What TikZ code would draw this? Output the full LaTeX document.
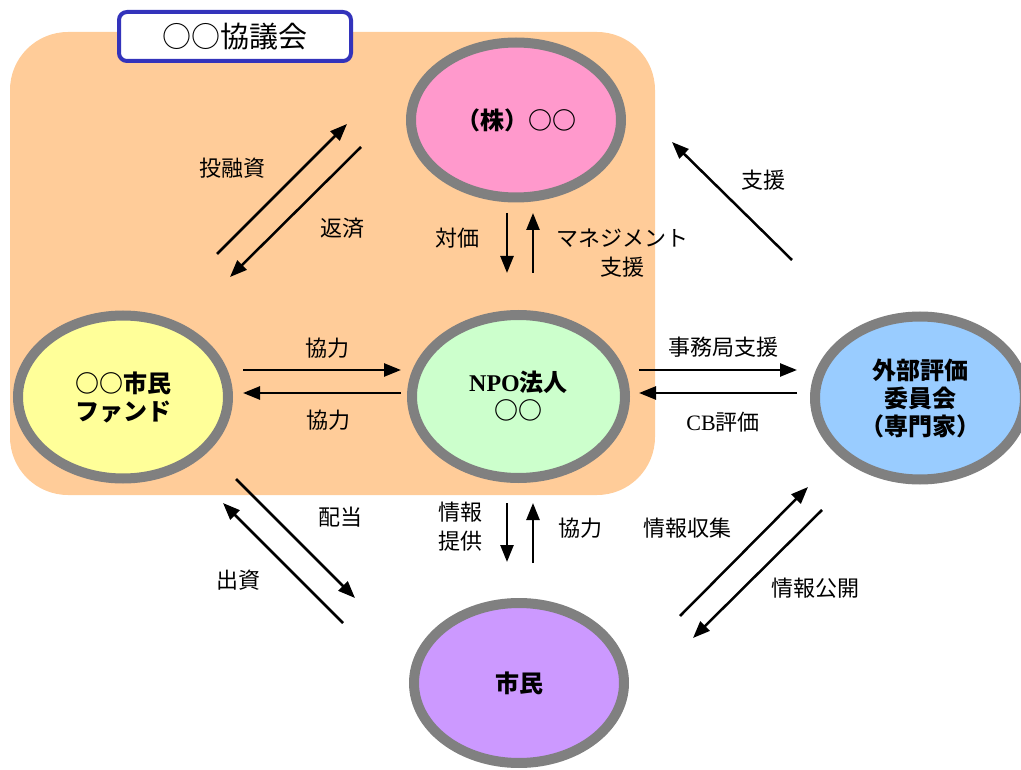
\documentclass[tikz,border=0pt]{standalone}
\usepackage{fontspec}
\setmainfont{Noto Sans CJK JP}
\newfontfamily\latinserif{Liberation Serif}
\usetikzlibrary{shapes.geometric,arrows.meta}
\definecolor{orangebg}{HTML}{FFCC99}
\definecolor{ringgray}{HTML}{808080}
\definecolor{titleblue}{HTML}{3333BB}
\definecolor{pinkf}{HTML}{FF99CC}
\definecolor{greenf}{HTML}{CCFFCC}
\definecolor{yellowf}{HTML}{FFFF99}
\definecolor{bluef}{HTML}{99CCFF}
\definecolor{purplef}{HTML}{CC99FF}
\begin{document}
\begin{tikzpicture}[x=1pt,y=-1pt,
  party/.style={ellipse, draw=ringgray, line width=10pt, inner sep=0pt,
    minimum width=210pt, minimum height=160pt,
    font=\fontsize{24}{28}\selectfont\bfseries, align=center},
  flow/.style={line width=2.5pt, -{Triangle[length=17pt,width=13pt]}},
  lbl/.style={font=\fontsize{22}{29}\selectfont, align=center, inner sep=0pt},
  titlebox/.style={draw=titleblue, line width=4pt, fill=white, rounded corners=8pt,
    minimum width=232pt, minimum height=49pt, inner sep=0pt,
    font=\fontsize{29}{32}\selectfont}]
\useasboundingbox (0,0) rectangle (1021,770);
% council area
\fill[orangebg, rounded corners=58pt] (10,32) rectangle (655,495);
\node[titlebox] (title) at (235,36.5) {○○協議会};
% actors
\node[party, fill=pinkf, minimum height=155pt] (kabu) at (516,120) {（株）○○};
\node[party, fill=greenf, minimum width=213pt, minimum height=163pt] (npo) at (518.5,396.5) {{\latinserif\bfseries NPO}法人\\○○};
\node[party, fill=yellowf, minimum height=163pt] (fund) at (123,397) {○○市民\\ファンド};
\node[party, fill=bluef, minimum height=163pt] (gaibu) at (920,398) {外部評価\\委員会\\（専門家）};
\node[party, fill=purplef] (shimin) at (519,683) {市民};
% arrow end points
\coordinate (a1s) at (217,254); \coordinate (a1e) at (347,124);
\coordinate (a2s) at (361,147); \coordinate (a2e) at (230,277);
\coordinate (a3s) at (507,213); \coordinate (a3e) at (507,273);
\coordinate (a4s) at (533,273); \coordinate (a4e) at (533,213);
\coordinate (a5s) at (243,370); \coordinate (a5e) at (401,370);
\coordinate (a6s) at (401,393); \coordinate (a6e) at (243,393);
\coordinate (a7s) at (639,370); \coordinate (a7e) at (797,370);
\coordinate (a8s) at (797,393); \coordinate (a8e) at (639,393);
\coordinate (a9s) at (792,260); \coordinate (a9e) at (672,142);
\coordinate (b1s) at (236,479); \coordinate (b1e) at (355,598);
\coordinate (b2s) at (343,623); \coordinate (b2e) at (223,503);
\coordinate (b3s) at (507,503); \coordinate (b3e) at (507,562);
\coordinate (b4s) at (533,563); \coordinate (b4e) at (533,503);
\coordinate (b5s) at (680,616); \coordinate (b5e) at (808,487);
\coordinate (b6s) at (822,510); \coordinate (b6e) at (693,638);
% arrows
\draw[flow] (a1s) -- (a1e);
\draw[flow] (a2s) -- (a2e);
\draw[flow] (a3s) -- (a3e);
\draw[flow] (a4s) -- (a4e);
\draw[flow] (a5s) -- (a5e);
\draw[flow] (a6s) -- (a6e);
\draw[flow] (a7s) -- (a7e);
\draw[flow] (a8s) -- (a8e);
\draw[flow] (a9s) -- (a9e);
\draw[flow] (b1s) -- (b1e);
\draw[flow] (b2s) -- (b2e);
\draw[flow] (b3s) -- (b3e);
\draw[flow] (b4s) -- (b4e);
\draw[flow] (b5s) -- (b5e);
\draw[flow] (b6s) -- (b6e);
% labels
\node[lbl] (l1) at (232,168) {投融資};
\node[lbl] (l2) at (342,228) {返済};
\node[lbl] (l3) at (457,238) {対価};
\node[lbl] (l4) at (622,253) {マネジメント\\支援};
\node[lbl] (l5) at (327,348) {協力};
\node[lbl] (l6) at (328,420) {協力};
\node[lbl] (l7) at (723,347) {事務局支援};
\node[lbl] (l8) at (723,422) {{\latinserif CB}評価};
\node[lbl] (l9) at (763,180) {支援};
\node[lbl] (l10) at (340,517) {配当};
\node[lbl] (l11) at (238,580) {出資};
\node[lbl] (l12) at (460,527) {情報\\提供};
\node[lbl] (l13) at (580,528) {協力};
\node[lbl] (l14) at (687,528) {情報収集};
\node[lbl] (l15) at (815,588) {情報公開};
\end{tikzpicture}
\end{document}
